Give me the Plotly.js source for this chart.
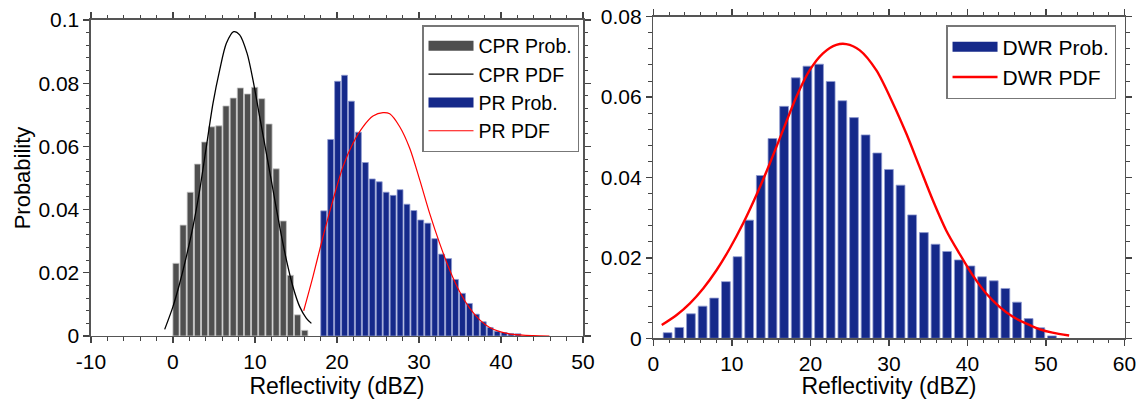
<!DOCTYPE html>
<html>
<head>
<meta charset="utf-8">
<script src="https://cdn.plot.ly/plotly-3.0.1.min.js"></script>
<style>html,body{margin:0;padding:0;background:#fff;}#chart{width:1147px;height:399px;}</style>
</head>
<body>
<div id="chart"></div>
<script>
// ---- Left panel: CPR and PR ----
const cprBinX = [0.37,1.24,2.11,2.99,3.86,4.73,5.60,6.47,7.35,8.22,9.09,9.96,10.83,11.71,12.58,13.45,14.32,15.19,16.07];
const cprProb = [0.0230,0.0351,0.0455,0.0544,0.0614,0.0662,0.0665,0.0728,0.0753,0.0785,0.0766,0.0787,0.0751,0.0671,0.0529,0.0364,0.0192,0.0067,0.0018];

const cprPdfX = [-1.01,0.0,0.82,1.63,2.44,3.26,4.07,4.88,5.70,6.51,7.40,8.13,9.03,9.76,10.57,11.39,12.2,13.01,13.83,14.63,15.45,16.27,16.88];
const cprPdfY = [0.0021,0.0093,0.0167,0.0251,0.0346,0.0462,0.0599,0.0736,0.0842,0.0926,0.0963,0.0953,0.0895,0.0810,0.0694,0.0578,0.0462,0.0346,0.0241,0.0156,0.0093,0.0056,0.0040];

const prBinX = [18.38,19.23,20.07,20.92,21.76,22.61,23.46,24.30,25.15,25.99,26.84,27.69,28.53,29.38,30.22,31.07,31.92,32.76,33.61,34.45,35.30,36.15,36.99,37.84,38.68,39.53,40.38,41.22,42.07];
const prProb = [0.0396,0.0622,0.0806,0.0825,0.0743,0.0645,0.0549,0.0497,0.0488,0.0455,0.0445,0.0463,0.0417,0.0397,0.0367,0.0357,0.0308,0.0259,0.0245,0.0179,0.0135,0.0103,0.0069,0.0045,0.0027,0.0015,0.0011,0.0008,0.0007];

const prPdfX = [15.94,17.07,18.29,19.51,20.73,21.95,23.17,24.39,25.61,26.43,27.65,28.87,30.09,31.3,32.52,33.74,34.96,36.18,37.4,38.62,39.84,41.46,43.9,45.9];
const prPdfY = [0.0080,0.0188,0.0314,0.0430,0.0536,0.0610,0.0662,0.0696,0.0707,0.0703,0.0662,0.0594,0.0494,0.0388,0.0293,0.0209,0.0140,0.0088,0.0051,0.0027,0.0014,0.0005,0.0001,0.0];

const leftXTickVals = [-10,0,10,20,30,40,50];
const leftXTickText = ['-10','0','10','20','30','40','50'];

// ---- Right panel: DWR ----
const dwrBinX = [1.82,3.30,4.79,6.27,7.75,9.24,10.72,12.20,13.68,15.17,16.65,18.13,19.62,21.10,22.58,24.07,25.55,27.03,28.52,30.00,31.48,32.96,34.45,35.93,37.41,38.90,40.38,41.86,43.35,44.83,46.31,47.79,49.28,50.76];
const dwrProb = [0.0014,0.0027,0.0061,0.0080,0.0100,0.0141,0.0203,0.0294,0.0405,0.0497,0.0577,0.0648,0.0677,0.0682,0.0639,0.0591,0.0549,0.0506,0.0461,0.0420,0.0381,0.0307,0.0263,0.0234,0.0216,0.0195,0.0180,0.0153,0.0143,0.0124,0.0090,0.0049,0.0026,0.0006];

const dwrPdfX = [1.07,2.97,4.66,6.35,8.06,9.75,11.44,13.14,14.83,16.52,18.22,19.91,21.6,23.3,24.57,26.26,28.39,30.5,32.2,33.89,35.58,37.28,38.97,40.66,42.36,44.05,45.74,47.44,49.14,50.83,52.95];
const dwrPdfY = [0.0033,0.0058,0.0087,0.0124,0.0170,0.0224,0.0286,0.0357,0.0435,0.0518,0.0601,0.0667,0.0709,0.0730,0.0732,0.0717,0.0667,0.0585,0.0510,0.0427,0.0344,0.0269,0.0211,0.0157,0.0112,0.0079,0.0054,0.0037,0.0023,0.0014,0.0007];

const FONT = 'Liberation Sans, Arial, sans-serif';
const GRAY = '#4f4f4f';
const NAVY = '#15298a';

function barTrace(name, x, y, w, color, edge, xa, ya, lg){
  return {type:'bar', name:name, x:x, y:y, width:w, xaxis:xa, yaxis:ya, legend:lg,
    legendgroup:name, showlegend:false, marker:{color:color, line:{color:edge, width:0.8}}};
}
function swatch(name, color, xa, ya, lg){
  return {type:'scatter', mode:'lines', name:name, x:[null], y:[null], xaxis:xa, yaxis:ya,
    legend:lg, legendgroup:name, hoverinfo:'skip', line:{color:color, width:20}};
}
function pdfTrace(name, x, y, color, w, xa, ya, lg){
  return {type:'scatter', mode:'lines', name:name, x:x, y:y, xaxis:xa, yaxis:ya, legend:lg,
    line:{color:color, width:w, shape:'spline', smoothing:0.8}};
}

const traces = [
  barTrace('CPR Prob.', cprBinX, cprProb, 0.76, GRAY, '#c8c8c8', 'x', 'y', 'legend'),
  barTrace('PR Prob.', prBinX, prProb, 0.72, NAVY, '#8f9ad0', 'x', 'y', 'legend'),
  barTrace('DWR Prob.', dwrBinX, dwrProb, 1.12, NAVY, '#8f9ad0', 'x2', 'y2', 'legend2'),
  swatch('CPR Prob.', GRAY, 'x', 'y', 'legend'),
  pdfTrace('CPR PDF', cprPdfX, cprPdfY, '#000', 1.3, 'x', 'y', 'legend'),
  swatch('PR Prob.', NAVY, 'x', 'y', 'legend'),
  pdfTrace('PR PDF', prPdfX, prPdfY, '#ff0000', 1.2, 'x', 'y', 'legend'),
  swatch('DWR Prob.', NAVY, 'x2', 'y2', 'legend2'),
  pdfTrace('DWR PDF', dwrPdfX, dwrPdfY, '#ff0000', 2.4, 'x2', 'y2', 'legend2')
];

function minorCfg(dt){
  return {tickmode:'linear', tick0:0, dtick:dt, ticks:'outside', ticklen:3.5, tickwidth:1, tickcolor:'#444', showgrid:false};
}
function axisBase(extra){
  return Object.assign({
    showgrid:false, zeroline:false, showline:true, linecolor:'#555', linewidth:1.5,
    mirror:'allticks', ticks:'outside', ticklen:6, tickwidth:1.3, tickcolor:'#444',
    tickfont:{family:FONT, size:21, color:'#000'}
  }, extra);
}

const layout = {
  width:1147, height:399,
  margin:{l:0, r:0, t:0, b:0},
  paper_bgcolor:'#fff', plot_bgcolor:'#fff',
  font:{family:FONT, color:'#000'},
  barmode:'overlay',
  xaxis: axisBase({domain:[0.0793,0.5083], anchor:'y', range:[-10,50],
    tickmode:'array', tickvals:leftXTickVals, ticktext:leftXTickText, minor:minorCfg(2),
    title:{text:'Reflectivity (dBZ)', font:{family:FONT, size:23}, standoff:2}}),
  yaxis: axisBase({domain:[0.1579,0.9499], anchor:'x', range:[0,0.1], tickmode:'linear', tick0:0, dtick:0.02,
    minor:minorCfg(0.004),
    title:{text:'Probability', font:{family:FONT, size:22}, standoff:1}}),
  xaxis2: axisBase({domain:[0.5696,0.9804], anchor:'y2', range:[0,60], tickmode:'linear', tick0:0, dtick:10,
    minor:minorCfg(2),
    title:{text:'Reflectivity (dBZ)', font:{family:FONT, size:23}, standoff:2}}),
  yaxis2: axisBase({domain:[0.1521,0.9581], anchor:'x2', range:[0,0.08], tickmode:'linear', tick0:0, dtick:0.02,
    minor:minorCfg(0.004)}),
  legend:{x:0.5048, xanchor:'right', y:0.9373, yanchor:'top', bgcolor:'#fff',
    bordercolor:'#777', borderwidth:1.5, font:{family:FONT, size:19.5}, traceorder:'normal', itemwidth:45, tracegroupgap:0},
  legend2:{x:0.973, xanchor:'right', y:0.9373, yanchor:'top', bgcolor:'#fff',
    bordercolor:'#777', borderwidth:1.5, font:{family:FONT, size:21}, traceorder:'normal', itemwidth:45, tracegroupgap:0},
  showlegend:true
};

Plotly.newPlot('chart', traces, layout, {staticPlot:true, displayModeBar:false});
</script>
</body>
</html>
